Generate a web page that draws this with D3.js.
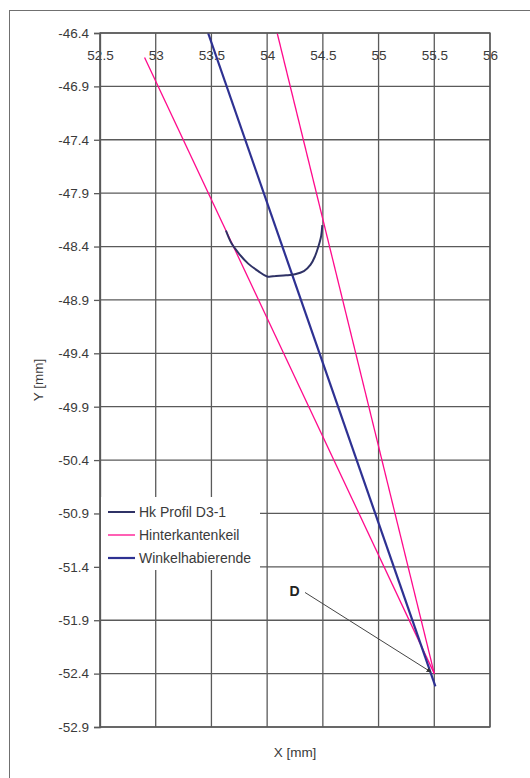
<!DOCTYPE html>
<html>
<head>
<meta charset="utf-8">
<script src="https://cdn.jsdelivr.net/npm/d3@7"></script>
<style>
  html, body { margin: 0; padding: 0; background: #fff; }
  svg { display: block; }
  text { font-family: "Liberation Sans", Arial, sans-serif; }
</style>
</head>
<body>
<svg id="chart" width="530" height="778"></svg>
<script>
// ---- data ----
const xTicks = [52.5, 53, 53.5, 54, 54.5, 55, 55.5, 56];
const yTicks = [-46.4, -46.9, -47.4, -47.9, -48.4, -48.9, -49.4, -49.9, -50.4, -50.9, -51.4, -51.9, -52.4, -52.9];

const profilX = [53.63, 53.68, 53.75, 53.83, 53.92, 54.0, 54.08, 54.17, 54.25, 54.33, 54.39, 54.43, 54.46, 54.485, 54.495];
const profilY = [-48.25, -48.37, -48.47, -48.56, -48.63, -48.68, -48.675, -48.67, -48.66, -48.63, -48.57, -48.49, -48.4, -48.3, -48.2];

const keilLeftX = [52.9, 55.5];
const keilLeftY = [-46.63, -52.4];
const keilRightX = [54.09, 55.5];
const keilRightY = [-46.4, -52.4];

const winkelX = [53.47, 55.51];
const winkelY = [-46.4, -52.52];

const seriesNames = ["Hk Profil D3-1", "Hinterkantenkeil", "Winkelhabierende"];
const annotLabel = "D";
const annotLabelPos = [54.2, -51.63];
const annotLineFrom = [54.34, -51.64];
const annotLineTo = [55.47, -52.385];

const xTitle = "X [mm]";
const yTitle = "Y [mm]";

// ---- layout ----
const W = 530, H = 778;
const plot = { left: 100, right: 490, top: 33, bottom: 727 };
const colors = { profil: "#2f3266", keil: "#ff0a8c", winkel: "#2e3192", grid: "#5a5a5a", text: "#3a3a3a" };

const svg = d3.select("#chart");

// outer frame
svg.append("rect").attr("x", 9.5).attr("y", 10.5).attr("width", W + 20).attr("height", H + 20)
  .attr("fill", "#fff").attr("stroke", "#707070").attr("stroke-width", 1);

const x = d3.scaleLinear().domain([52.5, 56]).range([plot.left, plot.right]);
const y = d3.scaleLinear().domain([-52.9, -46.4]).range([plot.bottom, plot.top]);

// gridlines
const grid = svg.append("g").attr("stroke", colors.grid).attr("stroke-width", 1.3);
grid.selectAll("line.v").data(xTicks).join("line").attr("class", "v")
  .attr("x1", d => x(d)).attr("x2", d => x(d)).attr("y1", plot.top).attr("y2", plot.bottom);
grid.selectAll("line.h").data(yTicks).join("line").attr("class", "h")
  .attr("x1", plot.left).attr("x2", plot.right).attr("y1", d => y(d)).attr("y2", d => y(d));

// axes
const yAxis = svg.append("g").attr("transform", `translate(${plot.left},0)`)
  .call(d3.axisLeft(y).tickValues(yTicks).tickSize(6).tickPadding(5).tickFormat(d => d.toFixed(1)));
yAxis.select(".domain").attr("stroke", colors.grid).attr("stroke-width", 1.3);
yAxis.selectAll(".tick line").attr("stroke", colors.grid).attr("stroke-width", 1.3);
yAxis.selectAll("text").attr("fill", colors.text).style("font-size", "13.5px");

const xAxis = svg.append("g").attr("transform", `translate(0,${plot.top})`)
  .call(d3.axisBottom(x).tickValues(xTicks).tickSize(0).tickPadding(17).tickFormat(d => String(d)));
xAxis.select(".domain").remove();
xAxis.selectAll("text").attr("fill", colors.text).style("font-size", "13.5px");

// clip
svg.append("clipPath").attr("id", "clip").append("rect")
  .attr("x", plot.left).attr("y", plot.top).attr("width", plot.right - plot.left).attr("height", plot.bottom - plot.top);

const line = d3.line().x(d => x(d[0])).y(d => y(d[1]));
const zip = (a, b) => a.map((v, i) => [v, b[i]]);
const g = svg.append("g").attr("clip-path", "url(#clip)");

g.append("path").datum(zip(keilLeftX, keilLeftY)).attr("d", line)
  .attr("fill", "none").attr("stroke", colors.keil).attr("stroke-width", 1.3);
g.append("path").datum(zip(keilRightX, keilRightY)).attr("d", line)
  .attr("fill", "none").attr("stroke", colors.keil).attr("stroke-width", 1.3);
g.append("path").datum(zip(winkelX, winkelY)).attr("d", line)
  .attr("fill", "none").attr("stroke", colors.winkel).attr("stroke-width", 2.2);
g.append("path").datum(zip(profilX, profilY)).attr("d", d3.line().x(d => x(d[0])).y(d => y(d[1])).curve(d3.curveCatmullRom))
  .attr("fill", "none").attr("stroke", colors.profil).attr("stroke-width", 2).attr("stroke-linejoin", "round");

// plot border
svg.append("rect").attr("x", plot.left).attr("y", plot.top)
  .attr("width", plot.right - plot.left).attr("height", plot.bottom - plot.top)
  .attr("fill", "none").attr("stroke", colors.grid).attr("stroke-width", 1.3);

// annotation D
svg.append("defs").append("marker").attr("id", "arrow").attr("viewBox", "0 0 10 10")
  .attr("refX", 9).attr("refY", 5).attr("markerWidth", 5).attr("markerHeight", 5).attr("orient", "auto")
  .append("path").attr("d", "M0,0 L10,5 L0,10 z").attr("fill", "#333");
svg.append("line")
  .attr("x1", x(annotLineFrom[0])).attr("y1", y(annotLineFrom[1]))
  .attr("x2", x(annotLineTo[0])).attr("y2", y(annotLineTo[1]))
  .attr("stroke", "#444").attr("stroke-width", 1).attr("marker-end", "url(#arrow)");
svg.append("text").attr("x", x(annotLabelPos[0])).attr("y", y(annotLabelPos[1]))
  .attr("dy", "0.35em").attr("fill", "#222").style("font-size", "14px").style("font-weight", "bold")
  .text(annotLabel);

// legend
const legend = svg.append("g");
legend.append("rect").attr("x", plot.left + 1).attr("y", 497).attr("width", 159).attr("height", 73).attr("fill", "#fff");
const legColors = [colors.profil, colors.keil, colors.winkel];
const legWidths = [2, 1.3, 2.2];
const legY = [512, 535, 558];
seriesNames.forEach((name, i) => {
  legend.append("line").attr("x1", 108).attr("x2", 135).attr("y1", legY[i]).attr("y2", legY[i])
    .attr("stroke", legColors[i]).attr("stroke-width", legWidths[i]);
  legend.append("text").attr("x", 139).attr("y", legY[i]).attr("dy", "0.35em")
    .attr("fill", colors.text).style("font-size", "14px").text(name);
});

// axis titles
svg.append("text").attr("x", (plot.left + plot.right) / 2).attr("y", 752).attr("dy", "0.35em")
  .attr("text-anchor", "middle").attr("fill", colors.text).style("font-size", "13.5px").text(xTitle);
svg.append("text").attr("transform", `translate(38,${(plot.top + plot.bottom) / 2}) rotate(-90)`)
  .attr("dy", "0.35em").attr("text-anchor", "middle").attr("fill", colors.text).style("font-size", "13.5px").text(yTitle);
</script>
</body>
</html>
